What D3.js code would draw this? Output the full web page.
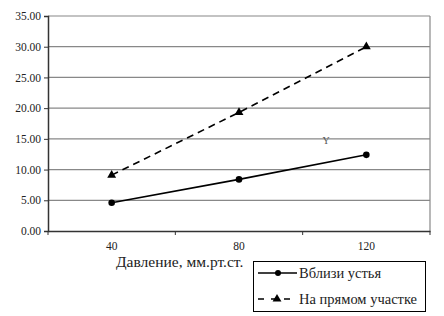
<!DOCTYPE html>
<html lang="ru">
<head>
<meta charset="utf-8">
<script src="https://d3js.org/d3.v7.min.js"></script>
<style>
  body { margin: 0; background: #fff; }
</style>
</head>
<body>
<script>
// pressure categories and the two series
var categories = ["40", "80", "120"];
var nearMouth = [4.6, 8.4, 12.4];      // Вблизи устья
var straightPart = [9.1, 19.3, 30.0];  // На прямом участке
var yTicks = [0, 5, 10, 15, 20, 25, 30, 35];
var seriesNames = ["Вблизи устья", "На прямом участке"];

var W = 444, H = 316;
var pLeft = 48, pRight = 430, pTop = 16, pBottom = 231;
var serif = "'Liberation Serif', 'DejaVu Serif', serif";

var svg = d3.select("body").append("svg")
  .attr("width", W).attr("height", H);

var x = d3.scaleBand().domain(categories).range([pLeft, pRight]);
var y = d3.scaleLinear().domain([0, 35]).range([pBottom, pTop]);

// gridlines
svg.append("g").selectAll("line")
  .data(yTicks.slice(1))
  .enter().append("line")
  .attr("x1", pLeft).attr("x2", pRight)
  .attr("y1", function (d) { return y(d); })
  .attr("y2", function (d) { return y(d); })
  .attr("stroke", "#888").attr("stroke-width", 1.2);

// right border
svg.append("line")
  .attr("x1", pRight).attr("x2", pRight).attr("y1", pTop).attr("y2", pBottom)
  .attr("stroke", "#888").attr("stroke-width", 1.2);

// y axis
var yAxis = svg.append("g")
  .attr("transform", "translate(" + pLeft + ",0)")
  .call(d3.axisLeft(y).tickValues(yTicks).tickSize(4).tickFormat(d3.format(".2f")));
yAxis.select(".domain").attr("stroke", "#333").attr("stroke-width", 1.5);
yAxis.selectAll(".tick line").attr("stroke", "#333");
yAxis.selectAll("text")
  .style("font-family", serif)
  .style("font-size", "11.5px").style("fill", "#222").attr("x", -7);

// x axis
var xAxis = svg.append("g")
  .attr("transform", "translate(0," + pBottom + ")")
  .call(d3.axisBottom(x).tickSize(0));
xAxis.select(".domain").attr("stroke", "#333").attr("stroke-width", 1.5);
xAxis.selectAll("text")
  .style("font-family", serif)
  .style("font-size", "11.5px").style("fill", "#222").attr("y", 11);
// category boundary ticks
xAxis.append("g").selectAll("line")
  .data(categories.concat(["end"]))
  .enter().append("line")
  .attr("x1", function (d, i) { return pLeft + i * x.bandwidth(); })
  .attr("x2", function (d, i) { return pLeft + i * x.bandwidth(); })
  .attr("y1", 0).attr("y2", 4)
  .attr("stroke", "#333");

svg.append("text")
  .attr("x", 116).attr("y", 267)
  .style("font-family", serif)
  .style("font-size", "15.5px").style("fill", "#222")
  .text("Давление, мм.рт.ст.");

// stray label
svg.append("text")
  .attr("x", 326).attr("y", 144)
  .attr("text-anchor", "middle")
  .style("font-family", serif)
  .style("font-size", "10px").style("fill", "#555")
  .text("Y");

function cx(i) { return x(categories[i]) + x.bandwidth() / 2; }

var line = d3.line()
  .x(function (d, i) { return cx(i); })
  .y(function (d) { return y(d); });

// dashed series
svg.append("path").datum(straightPart)
  .attr("d", line).attr("fill", "none")
  .attr("stroke", "#000").attr("stroke-width", 1.6)
  .attr("stroke-dasharray", "7,5");

var tri = d3.symbol().type(d3.symbolTriangle).size(34);
svg.append("g").selectAll("path")
  .data(straightPart).enter().append("path")
  .attr("d", tri)
  .attr("transform", function (d, i) { return "translate(" + cx(i) + "," + y(d) + ")"; })
  .attr("fill", "#000");

// solid series
svg.append("path").datum(nearMouth)
  .attr("d", line).attr("fill", "none")
  .attr("stroke", "#000").attr("stroke-width", 1.6);

svg.append("g").selectAll("circle")
  .data(nearMouth).enter().append("circle")
  .attr("cx", function (d, i) { return cx(i); })
  .attr("cy", function (d) { return y(d); })
  .attr("r", 3.3).attr("fill", "#000");

// legend
var lg = svg.append("g");
lg.append("rect")
  .attr("x", 253.5).attr("y", 261.5).attr("width", 172).attr("height", 50)
  .attr("fill", "#fff").attr("stroke", "#000").attr("stroke-width", 1);

var rows = [273, 299];
lg.append("line")
  .attr("x1", 258).attr("x2", 297).attr("y1", rows[0]).attr("y2", rows[0])
  .attr("stroke", "#000").attr("stroke-width", 1.6);
lg.append("circle").attr("cx", 278).attr("cy", rows[0]).attr("r", 3).attr("fill", "#000");
lg.append("line")
  .attr("x1", 258).attr("x2", 297).attr("y1", rows[1]).attr("y2", rows[1])
  .attr("stroke", "#000").attr("stroke-width", 1.6)
  .attr("stroke-dasharray", "6,7");
lg.append("path").attr("d", tri)
  .attr("transform", "translate(277," + rows[1] + ")").attr("fill", "#000");

lg.selectAll("text.lab")
  .data(seriesNames).enter().append("text")
  .attr("class", "lab")
  .attr("x", 299)
  .attr("y", function (d, i) { return rows[i] + 5; })
  .style("font-family", serif)
  .style("font-size", "14.5px").style("fill", "#222")
  .text(function (d) { return d; });
</script>
</body>
</html>
